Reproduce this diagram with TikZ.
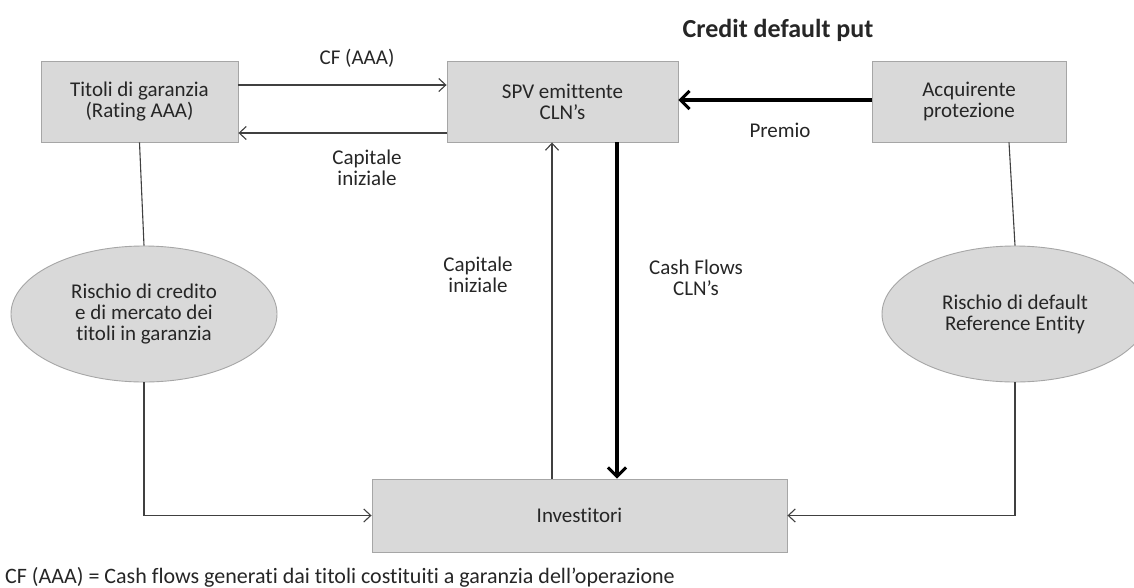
\documentclass[tikz,border=0pt]{standalone}
\usepackage{fontspec}
\setmainfont{Carlito}[Ligatures={NoCommon,NoContextual},RawFeature={-liga;-clig;-calt;-dlig}]
\usetikzlibrary{arrows.meta,shapes.geometric,calc}
\definecolor{boxfill}{HTML}{D9D9D9}
\definecolor{boxline}{HTML}{A6A6A6}
\definecolor{wire}{HTML}{404040}
\begin{document}
\begin{tikzpicture}[x=1pt,y=-1pt,
  every node/.style={font=\fontsize{21}{21}\selectfont, text=black!85},
  box/.style={draw=boxline, fill=boxfill, line width=0.9pt, minimum height=81pt, align=center, inner sep=0pt},
  risk/.style={ellipse, draw=boxline, fill=boxfill, line width=0.9pt, minimum width=266pt, minimum height=136pt, align=center, inner sep=0pt},
  lbl/.style={align=center, inner sep=0pt},
  thin/.style={draw=wire, line width=1.1pt},
  thinarrow/.style={thin, -{Straight Barb[length=7pt,width=13pt,line width=1.1pt]}},
  thickarrow/.style={draw=black, line width=3.4pt, -{Straight Barb[length=9pt,width=18pt,line width=3pt]}}
]
\clip (0,0) rectangle (1134,587);
\fill[white] (0,0) rectangle (1134,587);

% boxes
\node[box, minimum width=197pt] (tit) at (139.5,101.5) {Titoli di garanzia\\(Rating AAA)};
\node[box, minimum width=231pt] (spv) at (562.5,101.5) {SPV emittente\\CLN’s};
\node[box, minimum width=194pt] (acq) at (969,101.5) {Acquirente\\protezione};
\node[box, minimum width=415pt, minimum height=73pt] (inv) at (579.5,515.5) {Investitori};

% risk ellipses
\node[risk] (r1) at (144,314) {Rischio di credito\\e di mercato dei\\titoli in garanzia};
\node[risk] (r2) at (1015,314) {Rischio di default\\Reference Entity};

% title and labels
\node[lbl, font=\bfseries\fontsize{26}{28}\selectfont] (title) at (778,30) {Credit default put};
\node[lbl] (lcf) at (357,58) {CF (AAA)};
\node[lbl] (lcap1) at (367,168) {Capitale\\iniziale};
\node[lbl] (lprem) at (780,130) {Premio};
\node[lbl] (lcap2) at (478,275) {Capitale\\iniziale};
\node[lbl] (lcash) at (696,278) {Cash Flows\\CLN’s};
\node[lbl, anchor=west, font=\fontsize{22}{22}\selectfont] (note) at (5,577) {CF (AAA) = Cash flows generati dai titoli costituiti a garanzia dell’operazione};

% flows between the boxes
\draw[thinarrow] (tit.east |- 0,85) -- (spv.west |- 0,85);
\draw[thinarrow] (spv.west |- 0,133) -- (tit.east |- 0,133);
\draw[thickarrow] (acq.west |- 0,100) -- (spv.east |- 0,100);

\coordinate (capx) at (552,0);
\coordinate (cashx) at (617,0);
\draw[thinarrow] (capx |- inv.north) -- (capx |- spv.south);
\draw[thickarrow] (cashx |- spv.south) -- (cashx |- inv.north);

% risk links
\draw[thin] (tit.south) -- (r1.north);
\draw[thin] ([xshift=40pt]acq.south) -- (r2.north);
\draw[thinarrow] (r1.south) |- (inv.west);
\draw[thinarrow] (r2.south) |- (inv.east);
\end{tikzpicture}
\end{document}
